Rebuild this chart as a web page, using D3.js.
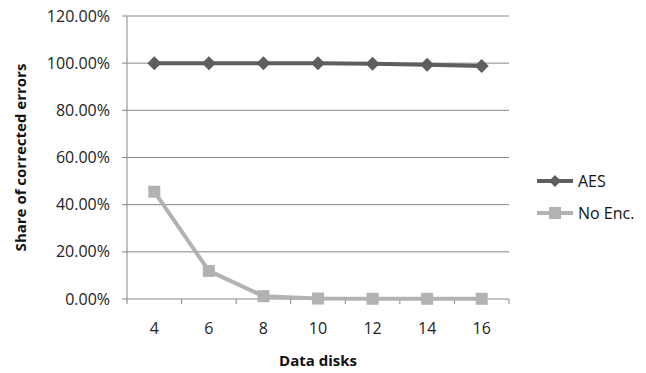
<!DOCTYPE html>
<html><head><meta charset="utf-8">
<script src="https://cdn.jsdelivr.net/npm/d3@7"></script>
<style>body{margin:0;background:#fff}svg{display:block}text{font-family:"Open Sans",sans-serif}</style>
</head><body><svg id="c" width="646" height="373"></svg>
<script>
const categories = ["4","6","8","10","12","14","16"];
const aes = [100, 100, 100, 100, 99.7, 99.3, 98.8];
const noEnc = [45.5, 11.9, 1.2, 0.2, 0.1, 0.1, 0.1];
const yTicks = [0, 20, 40, 60, 80, 100, 120];
const seriesNames = ["AES", "No Enc."];

const svg = d3.select("#c");
const L = 127, R = 509, T = 16, B = 299;
const x = d3.scaleBand().domain(categories).range([L, R]);
const y = d3.scaleLinear().domain([0, 120]).range([B, T]);
const grid = "#878787";

svg.append("g").selectAll("line").data(yTicks).join("line")
  .attr("x1", L - 5).attr("x2", R).attr("y1", d => y(d)).attr("y2", d => y(d))
  .attr("stroke", grid).attr("stroke-width", 1);
svg.append("line").attr("x1", L).attr("x2", L).attr("y1", T).attr("y2", B).attr("stroke", grid);
svg.append("g").selectAll("line").data(d3.range(categories.length + 1)).join("line")
  .attr("x1", i => L + i * x.bandwidth()).attr("x2", i => L + i * x.bandwidth())
  .attr("y1", B).attr("y2", B + 5).attr("stroke", grid);

svg.append("g").selectAll("text").data(yTicks).join("text")
  .attr("x", 110).attr("y", d => y(d)).attr("dy", "0.35em").attr("text-anchor", "end")
  .attr("font-size", 16).attr("fill", "#222").text(d => d.toFixed(2) + "%");
svg.append("g").selectAll("text").data(categories).join("text")
  .attr("x", d => x(d) + x.bandwidth() / 2).attr("y", 328).attr("dy", "0.35em").attr("text-anchor", "middle")
  .attr("font-size", 16).attr("fill", "#222").text(d => d);

svg.append("text").attr("x", 318).attr("y", 366).attr("text-anchor", "middle")
  .attr("font-size", 15).attr("font-weight", "bold").attr("fill", "#111").text("Data disks");
svg.append("text").attr("transform", "translate(26," + ((T + B) / 2) + ") rotate(-90)").attr("text-anchor", "middle")
  .attr("font-size", 15).attr("font-weight", "bold").attr("fill", "#111").text("Share of corrected errors");

const cx = d => x(d) + x.bandwidth() / 2;
const line = d3.line().x((d, i) => cx(categories[i])).y(d => y(d));
const colors = ["#5e5e5e", "#b2b2b2"];

svg.append("path").datum(noEnc).attr("d", line).attr("fill", "none").attr("stroke", colors[1]).attr("stroke-width", 4);
svg.append("g").selectAll("rect").data(noEnc).join("rect")
  .attr("x", (d, i) => cx(categories[i]) - 6).attr("y", d => y(d) - 6).attr("width", 12).attr("height", 12).attr("fill", colors[1]);

svg.append("path").datum(aes).attr("d", line).attr("fill", "none").attr("stroke", colors[0]).attr("stroke-width", 4);
const diamond = (cxv, cyv, r) => `M${cxv},${cyv - r}L${cxv + r},${cyv}L${cxv},${cyv + r}L${cxv - r},${cyv}Z`;
svg.append("g").selectAll("path").data(aes).join("path")
  .attr("d", (d, i) => diamond(cx(categories[i]), y(d), 7)).attr("fill", colors[0]);

// legend
const lg = svg.append("g");
seriesNames.forEach((n, i) => {
  const ly = 181 + i * 32;
  lg.append("line").attr("x1", 537).attr("x2", 573).attr("y1", ly).attr("y2", ly).attr("stroke", colors[i]).attr("stroke-width", 4);
  if (i === 0) lg.append("path").attr("d", diamond(555, ly, 6)).attr("fill", colors[0]);
  else lg.append("rect").attr("x", 549).attr("y", ly - 6).attr("width", 12).attr("height", 12).attr("fill", colors[1]);
  lg.append("text").attr("x", 578).attr("y", ly).attr("dy", "0.35em").attr("font-size", 16).attr("fill", "#111").text(n);
});
</script></body></html>
